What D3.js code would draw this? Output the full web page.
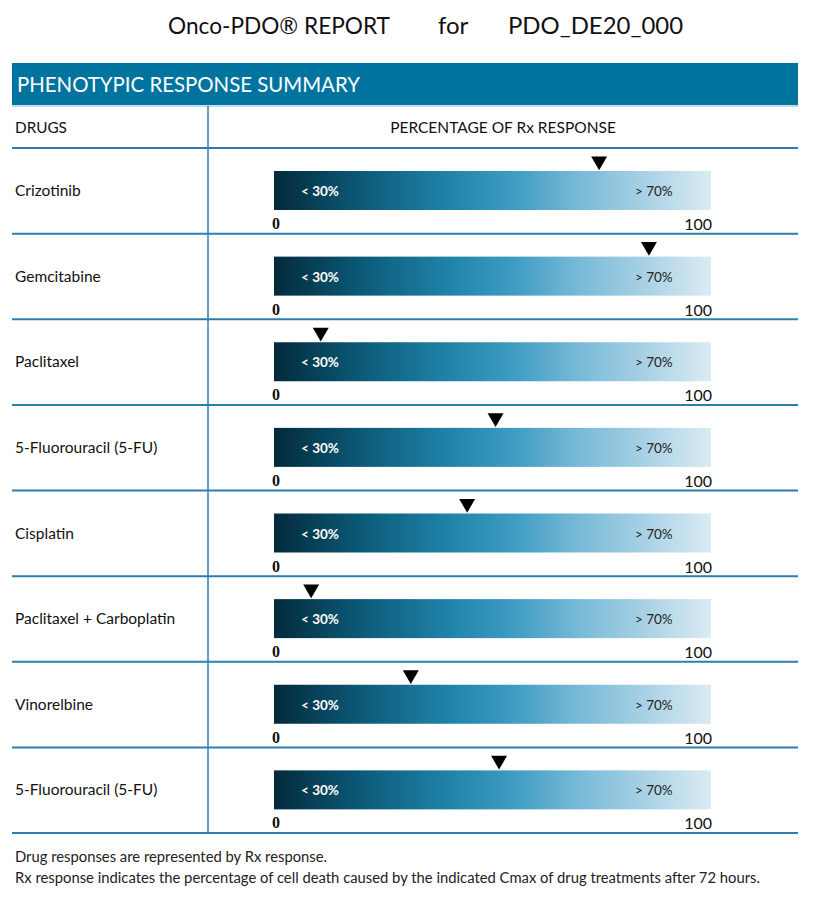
<!DOCTYPE html>
<html><head><meta charset="utf-8">
<script src="https://cdn.jsdelivr.net/npm/d3@7"></script>
<style>html,body{margin:0;padding:0;background:#fff;}svg{display:block;}</style>
</head><body>
<script>
const drugs = ["Crizotinib","Gemcitabine","Paclitaxel","5-Fluorouracil (5-FU)","Cisplatin","Paclitaxel + Carboplatin","Vinorelbine","5-Fluorouracil (5-FU)"];
const responses = [74.4, 85.8, 10.7, 50.7, 44.2, 8.5, 31.3, 51.5];
const bandLabels = ["< 30%", "> 70%"];
const bandPositions = [30, 70];
const tickLabels = ["0", "100"];
const tickValues = [0, 100];
const footnotes = ["Drug responses are represented by Rx response.",
  "Rx response indicates the percentage of cell death caused by the indicated Cmax of drug treatments after 72 hours."];

const W = 815, H = 905;
const FONT = "Lato, 'Open Sans', sans-serif";
const svg = d3.select("body").append("svg").attr("width", W).attr("height", H);

const defs = svg.append("defs");
const grad = defs.append("linearGradient").attr("id","g").attr("x1","0%").attr("x2","100%");
[[0,"#042a3c"],[0.2,"#0b5a78"],[0.4,"#1f83a8"],[0.55,"#3f9cc2"],[0.7,"#78bad8"],[0.85,"#a9d1e5"],[1,"#dbebf3"]]
  .forEach(([o,c]) => grad.append("stop").attr("offset", o).attr("stop-color", c));

// title
svg.append("text").attr("x", 168).attr("y", 34).attr("font-family", FONT).attr("font-size", 24).attr("fill", "#111")
  .attr("textLength", 222).attr("lengthAdjust", "spacingAndGlyphs").text("Onco-PDO® REPORT");
svg.append("text").attr("x", 438).attr("y", 34).attr("font-family", FONT).attr("font-size", 24).attr("fill", "#111").text("for");
svg.append("text").attr("x", 508).attr("y", 34).attr("font-family", FONT).attr("font-size", 24).attr("fill", "#111")
  .attr("textLength", 175).attr("lengthAdjust", "spacingAndGlyphs").text("PDO_DE20_000");

// header bar
const L = 12, R = 798;
svg.append("rect").attr("x", L).attr("y", 63).attr("width", R - L).attr("height", 42).attr("fill", "#00749f");
svg.append("line").attr("x1", L).attr("x2", R).attr("y1", 106).attr("y2", 106).attr("stroke", "#a9d3e8").attr("stroke-width", 1.5);
svg.append("text").attr("x", 17).attr("y", 92).attr("font-family", FONT).attr("font-size", 20.4).attr("fill", "#fff").text("PHENOTYPIC RESPONSE SUMMARY");

// column headers
svg.append("text").attr("x", 15).attr("y", 133).attr("font-family", FONT).attr("font-size", 15.3).attr("fill", "#111").text("DRUGS");
svg.append("text").attr("x", 503).attr("y", 133).attr("text-anchor","middle").attr("font-family", FONT).attr("font-size", 15.5).attr("fill", "#111").text("PERCENTAGE OF Rx RESPONSE");

const y = d3.scaleBand().domain(d3.range(drugs.length)).range([148, 833]);
const x = d3.scaleLinear().domain([0, 100]).range([274, 711]);

// divider
svg.append("line").attr("x1", 208).attr("x2", 208).attr("y1", 106).attr("y2", 833).attr("stroke", "#2a7fae").attr("stroke-width", 1.5);

const rows = svg.selectAll("g.row").data(drugs).join("g").attr("class","row")
  .attr("transform", (d,i) => `translate(0,${y(i)})`);

rows.append("line").attr("x1", L).attr("x2", R).attr("y1", 0).attr("y2", 0).attr("stroke", "#2a7fae").attr("stroke-width", 2);

rows.append("text").attr("x", 15).attr("y", 48).attr("font-family", FONT).attr("font-size", 15.5).attr("fill", "#111").text(d => d);

rows.append("rect").attr("x", x(0)).attr("y", 23).attr("width", x(100) - x(0)).attr("height", 39).attr("fill", "url(#g)");

rows.append("text").attr("x", x(bandPositions[0]) - 104).attr("y", 48).attr("font-family", FONT).attr("font-weight", "bold")
  .attr("font-size", 13.5).attr("fill", "#fff").text(bandLabels[0]);
rows.append("text").attr("x", x(bandPositions[1]) + 55).attr("y", 48).attr("font-family", FONT)
  .attr("font-size", 13.5).attr("fill", "#222").text(bandLabels[1]);

rows.append("text").attr("x", x(tickValues[0]) - 2).attr("y", 81).attr("font-family", "'Liberation Serif', serif").attr("font-weight","bold")
  .attr("font-size", 16).attr("fill", "#111").text(tickLabels[0]);
rows.append("text").attr("x", x(tickValues[1]) + 1).attr("y", 82).attr("text-anchor","end").attr("font-family", FONT)
  .attr("font-size", 16).attr("fill", "#111").text(tickLabels[1]);

const tri = d3.symbol().type(d3.symbolTriangle).size(110);
rows.append("path").attr("d", tri)
  .attr("transform", (d,i) => `translate(${x(responses[i])},${13}) rotate(180)`)
  .attr("fill", "#000");

// bottom line
svg.append("line").attr("x1", L).attr("x2", R).attr("y1", 833).attr("y2", 833).attr("stroke", "#2a7fae").attr("stroke-width", 2);

footnotes.forEach((t,i) => svg.append("text").attr("x", 15).attr("y", 862 + i*21).attr("font-family", FONT).attr("font-size", 14.8).attr("fill", "#222").text(t));
</script>
</body></html>
